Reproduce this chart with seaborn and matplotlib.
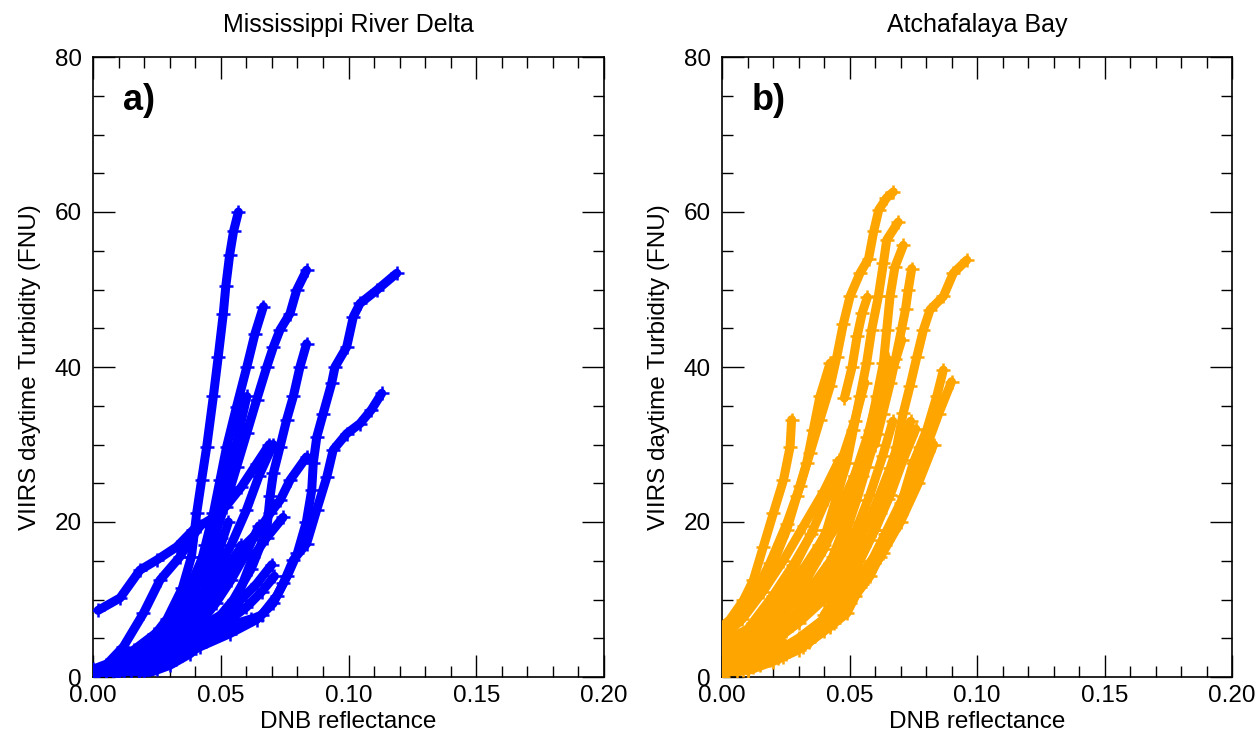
import numpy as np
import pandas as pd
import matplotlib
matplotlib.use("Agg")
import matplotlib.pyplot as plt
import seaborn as sns
from matplotlib.ticker import MultipleLocator

# ---------------- data: panel a (Mississippi River Delta) ----------------
a1_x = [0.000, 0.006, 0.014, 0.022, 0.029, 0.035, 0.0385, 0.0406, 0.0425, 0.0445, 0.0471, 0.049, 0.051, 0.052, 0.0535, 0.055, 0.0569]
a1_y = [0.3, 1.0, 2.5, 4.5, 7.5, 11.5, 15.5, 21.2, 25.4, 29.7, 36.2, 41.3, 46.9, 50.5, 54.5, 57.5, 60.0]
a2_x = [0.002, 0.0106, 0.0184, 0.025, 0.0328, 0.0393, 0.0458, 0.052, 0.058, 0.064, 0.069]
a2_y = [8.6, 10.2, 13.8, 15.1, 16.8, 19.0, 20.3, 22.0, 24.5, 27.5, 30.0]
a3_x = [0.000, 0.009, 0.018, 0.0314, 0.0419, 0.0536, 0.064, 0.0705, 0.0745, 0.0784, 0.0836, 0.0875, 0.0915, 0.094, 0.0993, 0.1045, 0.109, 0.113]
a3_y = [0.0, 0.2, 0.5, 2.2, 3.9, 5.6, 7.4, 9.5, 12.1, 15.1, 17.2, 21.5, 25.8, 29.3, 31.4, 32.7, 34.5, 36.6]
a4_x = [0.000, 0.010, 0.025, 0.040, 0.055, 0.066, 0.072, 0.076, 0.080, 0.0835, 0.0856, 0.0862, 0.0876, 0.0901, 0.0934, 0.0947, 0.0993, 0.1019, 0.1045, 0.111, 0.1189]
a4_y = [0.2, 0.8, 2.5, 4.5, 6.5, 8.0, 10.5, 13.0, 16.0, 20.0, 24.1, 27.6, 31.0, 34.0, 37.9, 40.0, 42.6, 46.5, 48.2, 49.9, 52.1]
a5_x = [0.005, 0.015, 0.025, 0.033, 0.040, 0.0445, 0.0484, 0.0523, 0.0562, 0.0602, 0.064, 0.068, 0.0706, 0.0732, 0.0771, 0.0797, 0.0836]
a5_y = [0.3, 1.5, 4.0, 7.0, 11.0, 14.7, 19.0, 22.8, 27.1, 31.5, 35.7, 40.0, 42.6, 44.8, 46.9, 49.9, 52.5]
a6_x = [0.000, 0.010, 0.020, 0.028, 0.035, 0.040, 0.044, 0.0471, 0.0497, 0.0523, 0.0562, 0.0602, 0.0634, 0.0667]
a6_y = [0.3, 1.0, 2.5, 5.0, 8.0, 12.0, 17.0, 21.1, 25.4, 29.7, 34.9, 40.0, 44.3, 47.8]
a7_x = [0.012, 0.025, 0.035, 0.045, 0.055, 0.062, 0.068, 0.0693, 0.0706, 0.0732, 0.0758, 0.0784, 0.081, 0.0836]
a7_y = [0.5, 1.8, 3.5, 6.0, 10.0, 14.0, 19.0, 23.3, 26.3, 29.7, 33.2, 36.2, 40.0, 43.0]
a8_x = [0.010, 0.020, 0.030, 0.038, 0.045, 0.051, 0.0575, 0.064, 0.0693, 0.0732, 0.0771, 0.0836]
a8_y = [0.6, 2.0, 4.0, 7.0, 10.5, 13.8, 16.4, 18.5, 21.1, 22.8, 25.4, 28.4]
a9_x = [0.005, 0.015, 0.025, 0.035, 0.045, 0.055, 0.0626, 0.068, 0.0744]
a9_y = [0.5, 1.5, 3.0, 5.0, 7.0, 9.0, 15.5, 18.0, 20.6]
a10_x = [0.000, 0.005, 0.0119, 0.0197, 0.0262, 0.034, 0.038, 0.042]
a10_y = [0.5, 1.5, 3.9, 8.2, 12.5, 15.5, 17.7, 19.5]
a11_x = [0.005, 0.015, 0.025, 0.035, 0.045, 0.055, 0.062]
a11_y = [0.3, 1.0, 2.0, 3.5, 5.5, 6.8, 7.5]
a12_x = [0.030, 0.036, 0.041, 0.046, 0.051, 0.056, 0.0602]
a12_y = [6.0, 9.0, 13.0, 18.0, 24.0, 30.0, 36.2]
a13_x = [0.008, 0.018, 0.028, 0.036, 0.042, 0.048, 0.054, 0.060, 0.065, 0.0705]
a13_y = [0.5, 1.8, 4.0, 7.0, 10.0, 13.5, 17.0, 21.5, 26.0, 30.0]
a14_x = [0.015, 0.025, 0.032, 0.038, 0.043, 0.047, 0.050]
a14_y = [0.5, 2.0, 4.0, 7.0, 10.5, 14.0, 18.0]
a15_x = [0.020, 0.030, 0.038, 0.045, 0.052, 0.058, 0.064, 0.070]
a15_y = [0.3, 1.5, 3.0, 5.0, 7.5, 10.0, 12.0, 14.5]
a16_x = [0.010, 0.020, 0.028, 0.034, 0.039, 0.043, 0.046]
a16_y = [1.0, 3.5, 6.5, 9.5, 12.5, 15.5, 18.5]
a17_x = [0.018, 0.028, 0.036, 0.043, 0.049, 0.054, 0.058]
a17_y = [0.8, 2.5, 5.0, 8.0, 11.0, 14.0, 17.0]
a18_x = [0.025, 0.035, 0.044, 0.052, 0.060, 0.066, 0.071]
a18_y = [1.0, 2.8, 4.8, 7.0, 9.0, 11.0, 13.0]
a19_x = [0.000, 0.008, 0.016, 0.024, 0.032, 0.040]
a19_y = [1.0, 2.0, 3.5, 5.5, 8.0, 11.0]
a20_x = [0.035, 0.042, 0.048, 0.054, 0.060, 0.065]
a20_y = [5.0, 7.0, 9.5, 12.5, 16.0, 19.5]
a21_x = [0.030, 0.036, 0.041, 0.045, 0.049, 0.053]
a21_y = [3.0, 5.5, 8.5, 12.0, 16.0, 20.0]

# ---------------- data: panel b (Atchafalaya Bay) ----------------
b1_x = [0.0005, 0.0058, 0.0123, 0.0188, 0.0254, 0.0306, 0.0345, 0.0384, 0.0424, 0.045, 0.0476, 0.0502, 0.0541, 0.0575, 0.0595, 0.0615, 0.0645, 0.0672]
b1_y = [6.5, 7.4, 10.4, 14.7, 19.8, 24.6, 28.9, 33.2, 37.5, 41.3, 45.6, 49.1, 52.1, 54.0, 57.5, 60.3, 61.8, 62.6]
b2_x = [0.0031, 0.0123, 0.0214, 0.0293, 0.0358, 0.0411, 0.045, 0.0489, 0.0515, 0.0541, 0.0567, 0.0587, 0.0613, 0.0633, 0.0646, 0.0691]
b2_y = [3.5, 4.8, 6.9, 10.4, 14.7, 19.0, 23.3, 27.6, 31.9, 36.2, 40.5, 44.8, 49.1, 53.4, 56.4, 58.7]
b3_x = [0.0018, 0.0097, 0.0188, 0.028, 0.0358, 0.0424, 0.0476, 0.0515, 0.0554, 0.058, 0.0607, 0.0633, 0.0646, 0.0659, 0.0678, 0.0711]
b3_y = [2.6, 3.9, 5.6, 7.8, 10.8, 14.7, 19.0, 23.3, 27.6, 31.9, 36.2, 40.5, 44.8, 49.1, 52.9, 55.7]
b4_x = [0.0018, 0.0097, 0.0188, 0.0293, 0.0384, 0.045, 0.0515, 0.058, 0.062, 0.0659, 0.0685, 0.0711, 0.0737, 0.0764, 0.079, 0.0816, 0.0868, 0.0907, 0.096]
b4_y = [1.3, 2.0, 3.1, 4.3, 6.9, 9.9, 13.3, 17.7, 21.1, 25.4, 29.7, 34.1, 37.5, 41.3, 44.8, 47.4, 49.1, 52.1, 53.8]
b5_x = [0.0018, 0.0084, 0.0188, 0.0319, 0.0424, 0.0489, 0.0541, 0.062, 0.0672, 0.0711, 0.075, 0.0776, 0.0803, 0.0842, 0.0868]
b5_y = [0.4, 0.9, 2.2, 3.9, 6.5, 8.2, 11.6, 15.5, 19.0, 23.3, 27.6, 29.7, 31.9, 36.2, 39.6]
b6_x = [0.010, 0.022, 0.034, 0.044, 0.052, 0.058, 0.064, 0.070, 0.075, 0.080, 0.085, 0.090]
b6_y = [1.0, 2.5, 4.5, 7.0, 10.5, 14.5, 18.5, 22.5, 26.0, 29.5, 34.0, 38.1]
b7_x = [0.060, 0.063, 0.066, 0.068, 0.0705, 0.072, 0.073, 0.0744]
b7_y = [30.0, 34.0, 38.0, 41.0, 45.0, 47.5, 49.9, 52.7]
b8_x = [0.000, 0.0031, 0.0084, 0.0123, 0.0162, 0.0201, 0.0241, 0.0267, 0.0273]
b8_y = [6.5, 7.4, 9.9, 12.5, 16.8, 21.1, 25.4, 29.7, 33.2]
b9_x = [0.0005, 0.0071, 0.0149, 0.0201, 0.0254, 0.0293, 0.0332, 0.0358, 0.0384, 0.0424]
b9_y = [6.5, 8.2, 11.2, 14.7, 19.0, 23.3, 27.6, 31.9, 36.2, 40.5]
b10_x = [0.0018, 0.0097, 0.0188, 0.0293, 0.0371, 0.0437, 0.0489, 0.0528, 0.0567, 0.0607, 0.0633, 0.0672, 0.0705]
b10_y = [4.8, 6.1, 7.8, 9.9, 12.5, 15.5, 19.0, 22.8, 27.1, 31.4, 36.2, 40.0, 43.5]
b11_x = [0.0005, 0.0123, 0.024, 0.0345, 0.0424, 0.0489, 0.0567, 0.0646, 0.0724]
b11_y = [0.0, 1.3, 2.6, 4.8, 8.2, 10.8, 14.2, 17.7, 22.8]
b12_x = [0.000, 0.010, 0.020, 0.030, 0.040, 0.050, 0.055, 0.058]
b12_y = [3.0, 5.0, 8.0, 12.0, 17.0, 22.0, 26.0, 30.0]
b13_x = [0.000, 0.010, 0.020, 0.030, 0.040, 0.050, 0.060, 0.065, 0.070, 0.074]
b13_y = [1.0, 2.5, 4.5, 7.0, 10.0, 14.0, 19.0, 23.0, 28.0, 33.0]
b14_x = [0.000, 0.008, 0.016, 0.024, 0.032]
b14_y = [2.0, 3.5, 5.5, 8.0, 11.0]
b15_x = [0.000, 0.010, 0.020, 0.030, 0.040, 0.048]
b15_y = [0.5, 1.5, 3.0, 5.0, 7.5, 10.0]
b16_x = [0.000, 0.010, 0.020, 0.030, 0.038, 0.045, 0.052, 0.058, 0.062]
b16_y = [4.0, 6.0, 9.0, 13.0, 17.0, 21.0, 26.0, 31.0, 35.0]
b17_x = [0.005, 0.015, 0.025, 0.035, 0.045, 0.053, 0.060, 0.066, 0.070]
b17_y = [2.0, 3.5, 6.0, 9.0, 13.0, 17.0, 22.0, 27.0, 31.0]
b18_x = [0.010, 0.020, 0.030, 0.040, 0.050, 0.058, 0.064, 0.070, 0.076, 0.082]
b18_y = [0.8, 2.0, 3.5, 6.0, 9.5, 13.0, 17.0, 21.0, 25.5, 30.0]
b19_x = [0.000, 0.008, 0.016, 0.024, 0.032, 0.040, 0.046]
b19_y = [5.0, 7.5, 11.0, 15.0, 19.5, 24.0, 28.0]
b20_x = [0.000, 0.006, 0.012, 0.018, 0.024]
b20_y = [0.2, 0.8, 1.8, 3.0, 4.5]
b21_x = [0.015, 0.025, 0.035, 0.045, 0.055, 0.063, 0.070, 0.077, 0.083]
b21_y = [1.5, 3.0, 5.0, 8.0, 12.0, 16.0, 20.0, 25.0, 30.0]
b22_x = [0.048, 0.051, 0.053, 0.055, 0.057]
b22_y = [36.0, 40.0, 44.0, 47.0, 49.0]
b23_x = [0.020, 0.028, 0.035, 0.041, 0.047, 0.052, 0.056]
b23_y = [10.0, 14.0, 18.5, 23.0, 28.0, 33.0, 38.0]
b24_x = [0.025, 0.033, 0.040, 0.046, 0.052, 0.057, 0.061, 0.065]
b24_y = [9.0, 12.5, 16.5, 21.0, 26.0, 31.0, 36.0, 41.0]
b25_x = [0.030, 0.038, 0.045, 0.052, 0.058, 0.063, 0.067]
b25_y = [7.5, 10.5, 14.0, 18.5, 23.5, 28.5, 33.0]
b26_x = [0.005, 0.012, 0.020, 0.028, 0.036]
b26_y = [4.0, 7.0, 10.5, 14.5, 19.0]
b27_x = [0.040, 0.047, 0.054, 0.060, 0.066, 0.071, 0.076]
b27_y = [8.0, 11.5, 15.0, 19.0, 23.5, 28.0, 32.0]
b28_x = [0.012, 0.020, 0.028, 0.036, 0.044, 0.050]
b28_y = [3.0, 5.0, 7.5, 11.0, 15.5, 20.0]

titles = ["Mississippi River Delta", "Atchafalaya Bay"]
panel_tags = ["a)", "b)"]
colors = ["#0000FF", "#FFA500"]
x_ticks = [0.00, 0.05, 0.10, 0.15, 0.20]
y_ticks = [0, 20, 40, 60, 80]
x_label = "DNB reflectance"
y_label = "VIIRS daytime Turbidity (FNU)"

curves_a = [(a1_x, a1_y), (a2_x, a2_y), (a3_x, a3_y), (a4_x, a4_y), (a5_x, a5_y),
            (a6_x, a6_y), (a7_x, a7_y), (a8_x, a8_y), (a9_x, a9_y), (a10_x, a10_y),
            (a11_x, a11_y), (a12_x, a12_y), (a13_x, a13_y), (a14_x, a14_y), (a15_x, a15_y),
            (a16_x, a16_y), (a17_x, a17_y), (a18_x, a18_y), (a19_x, a19_y), (a20_x, a20_y),
            (a21_x, a21_y)]
curves_b = [(b1_x, b1_y), (b2_x, b2_y), (b3_x, b3_y), (b4_x, b4_y), (b5_x, b5_y),
            (b6_x, b6_y), (b7_x, b7_y), (b8_x, b8_y), (b9_x, b9_y), (b10_x, b10_y),
            (b11_x, b11_y), (b12_x, b12_y), (b13_x, b13_y), (b14_x, b14_y), (b15_x, b15_y),
            (b16_x, b16_y), (b17_x, b17_y), (b18_x, b18_y), (b19_x, b19_y), (b20_x, b20_y),
            (b21_x, b21_y), (b22_x, b22_y), (b23_x, b23_y), (b24_x, b24_y), (b25_x, b25_y),
            (b26_x, b26_y), (b27_x, b27_y), (b28_x, b28_y)]


def to_frame(curves):
    rows = []
    for i, (xs, ys) in enumerate(curves):
        for x, y in zip(xs, ys):
            rows.append({"curve": i, "dnb": x, "turb": y})
    return pd.DataFrame(rows)


sns.set_style("ticks")
plt.rcParams["font.family"] = ["Liberation Sans", "DejaVu Sans"]
plt.rcParams["text.color"] = "black"
plt.rcParams["axes.labelcolor"] = "black"
plt.rcParams["xtick.color"] = "black"
plt.rcParams["ytick.color"] = "black"

fig = plt.figure(figsize=(12.59, 7.38), dpi=100)
ax_a = fig.add_axes([93 / 1259, 1 - 677 / 738, 511 / 1259, 620 / 738])
ax_b = fig.add_axes([722 / 1259, 1 - 677 / 738, 510 / 1259, 620 / 738])

for ax, curves, title, tag, col in zip([ax_a, ax_b], [curves_a, curves_b], titles, panel_tags, colors):
    df = to_frame(curves)
    sns.lineplot(data=df, x="dnb", y="turb", units="curve", estimator=None, sort=False,
                 color=col, linewidth=6.5, ax=ax, solid_capstyle="round", solid_joinstyle="round")
    sns.scatterplot(data=df, x="dnb", y="turb", marker="+", color=col, s=110,
                    linewidth=1.8, ax=ax, zorder=3)
    ax.set_xlim(0, 0.20)
    ax.set_ylim(0, 80)
    ax.set_xticks(x_ticks)
    ax.set_xticklabels([f"{v:.2f}" for v in x_ticks])
    ax.set_yticks(y_ticks)
    ax.set_yticklabels([str(v) for v in y_ticks])
    ax.xaxis.set_minor_locator(MultipleLocator(0.01))
    ax.yaxis.set_minor_locator(MultipleLocator(5))
    ax.tick_params(which="both", direction="in", top=True, right=True,
                   color="black", labelcolor="black", width=1.0, labelsize=17.5)
    ax.tick_params(which="major", length=16)
    ax.tick_params(which="minor", length=8)
    ax.tick_params(axis="x", which="major", pad=6)
    ax.tick_params(axis="y", which="major", pad=8)
    for sp in ax.spines.values():
        sp.set_visible(True)
        sp.set_linewidth(1.2)
        sp.set_color("black")
    ax.set_xlabel(x_label, fontsize=17.5, labelpad=3, color="black")
    ax.set_ylabel(y_label, fontsize=17.5, labelpad=10, color="black")
    ax.set_title(title, fontsize=18, pad=18, color="black")
    ax.text(0.059, 0.93, tag, transform=ax.transAxes, fontsize=26, fontweight="bold",
            ha="left", va="center", color="black")

fig.savefig("out.png", dpi=100)
